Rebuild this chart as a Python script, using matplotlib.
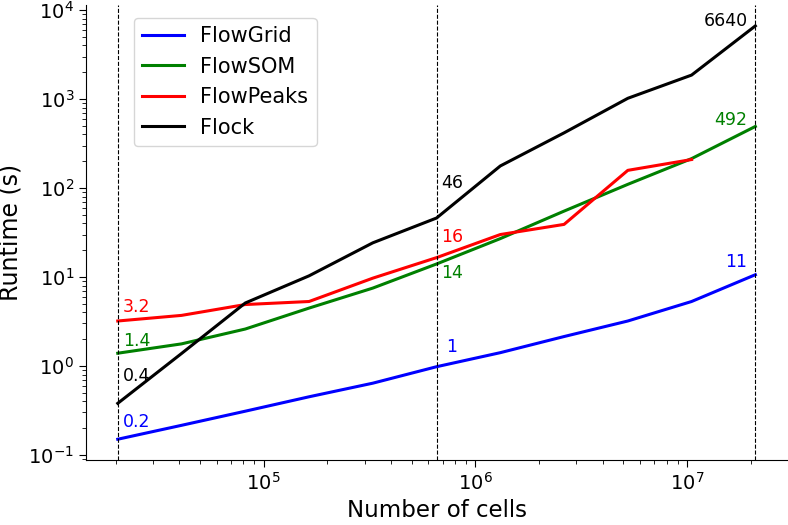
import matplotlib
matplotlib.use("Agg")
import matplotlib.pyplot as plt

# number of cells (20480 * 2^k)
cells = [20480, 40960, 81920, 163840, 327680, 655360,
         1310720, 2621440, 5242880, 10485760, 20971520]

flowgrid = [0.15, 0.215, 0.31, 0.45, 0.64, 0.98, 1.41, 2.14, 3.2, 5.3, 10.6]
flowsom = [1.39, 1.77, 2.6, 4.47, 7.5, 14.0, 27, 55, 110, 214, 492]
flowpeaks = [3.2, 3.7, 4.9, 5.3, 9.7, 16.5, 30, 39, 158, 209]
flock = [0.38, 1.38, 5.1, 10.3, 24.2, 46, 177, 417, 1020, 1860, 6640]

names = ["FlowGrid", "FlowSOM", "FlowPeaks", "Flock"]
colors = ["b", "g", "r", "k"]

# value labels: (series index, point index, text)
labels = [
    (0, 0, "0.2"), (0, 5, "1"), (0, 10, "11"),
    (1, 0, "1.4"), (1, 5, "14"), (1, 10, "492"),
    (2, 0, "3.2"), (2, 5, "16"),
    (3, 0, "0.4"), (3, 5, "46"), (3, 10, "6640"),
]
# pixel offsets for each label (dx, dy, ha)
offsets = [
    (5, 17, "left"), (10, 20, "left"), (-8, 13, "right"),
    (5, 12, "left"), (5, -9, "left"), (-8, 6, "right"),
    (5, 14, "left"), (5, 21, "left"),
    (5, 27, "left"), (5, 35, "left"), (-7, 5, "right"),
]

fig = plt.figure(figsize=(7.88, 5.25), dpi=100)
ax = fig.add_axes([0.109, 0.124, 0.890, 0.866])

series = [flowgrid, flowsom, flowpeaks, flock]
for name, ys, c in zip(names, series, colors):
    ax.plot(cells[:len(ys)], ys, color=c, lw=2.2, label=name)

for x in [cells[0], cells[5], cells[10]]:
    ax.axvline(x, color="k", ls="--", lw=0.8)

for (si, pi, txt), (dx, dy, ha) in zip(labels, offsets):
    ax.annotate(txt, (cells[pi], series[si][pi]), xytext=(dx, dy),
                textcoords="offset pixels", ha=ha, va="center",
                color=colors[si], fontsize=12.5)

ax.set_xscale("log")
ax.set_yscale("log")
ax.set_xlabel("Number of cells", fontsize=16.5)
ax.set_ylabel("Runtime (s)", fontsize=17)
ax.tick_params(labelsize=14)
ax.tick_params(which="major", length=5)
ax.tick_params(which="minor", length=3)
ax.spines["top"].set_visible(False)
ax.spines["right"].set_visible(False)

ax.legend(loc="upper left", bbox_to_anchor=(0.068, 0.972), borderaxespad=0,
          fontsize=15)

fig.savefig("out.png", dpi=100)
